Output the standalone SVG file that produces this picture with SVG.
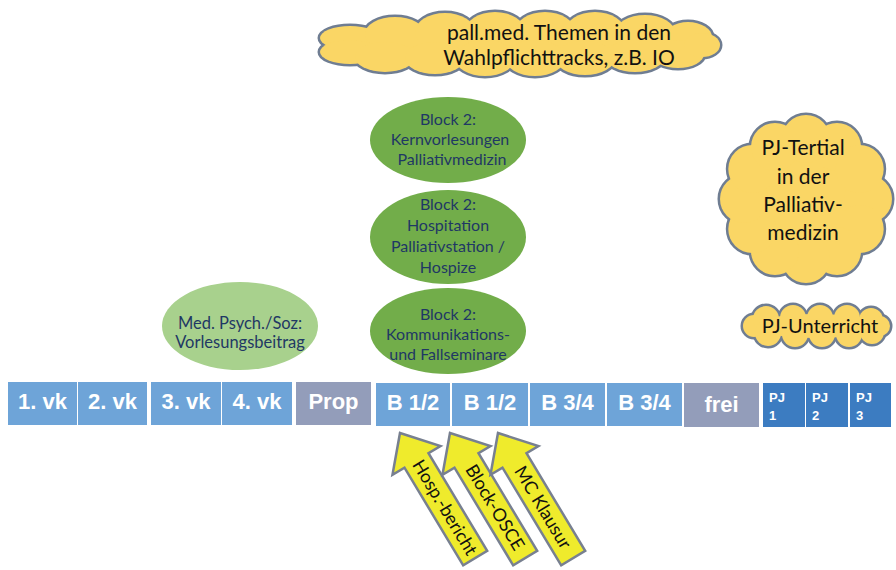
<svg xmlns="http://www.w3.org/2000/svg" xmlns:xlink="http://www.w3.org/1999/xlink" width="896" height="570" viewBox="0 0 896 570">
<style>
  .cl-edge{fill:#6f7d92;stroke:#6f7d92;stroke-width:5}
  .cl-fill{fill:#fad665;stroke:none}
  .cl-text{font-family:Lato,"Liberation Sans",sans-serif;font-size:21px;fill:#111;text-anchor:middle}
  .ell-dk{fill:#72ad4a}
  .ell-lt{fill:#a8d18d}
  .ell-text{font-family:Lato,"Liberation Sans",sans-serif;font-size:16px;fill:#1f3864;text-anchor:middle}
  .bx{fill:#6ea4d8}
  .bx-g{fill:#939dba}
  .bx-pj{fill:#3c7cc1}
  .bx-text{font-family:"Liberation Sans",Arial,sans-serif;font-weight:bold;font-size:22px;fill:#fff;text-anchor:middle}
  .pj-text{font-family:"Liberation Sans",Arial,sans-serif;font-weight:bold;font-size:13px;fill:#fff}
  .arr{fill:#efeb2c;stroke:#788090;stroke-width:2.5;stroke-linejoin:miter}
  .arr-text{font-family:Lato,"Liberation Sans",sans-serif;font-size:18px;fill:#111;text-anchor:middle}
</style>
<defs>
  <g id="cloudTop">
    <ellipse cx="520" cy="45" rx="172" ry="18"/>
    <ellipse cx="350" cy="38" rx="30" ry="12"/>
    <ellipse cx="350" cy="52" rx="30" ry="12"/>
    <ellipse cx="395" cy="34" rx="30" ry="17"/>
    <ellipse cx="445" cy="32" rx="30" ry="19"/>
    <ellipse cx="495" cy="32" rx="30" ry="20"/>
    <ellipse cx="545" cy="32" rx="30" ry="20"/>
    <ellipse cx="595" cy="32" rx="30" ry="20"/>
    <ellipse cx="645" cy="33" rx="30" ry="18"/>
    <ellipse cx="688" cy="37" rx="24" ry="15"/>
    <ellipse cx="385" cy="57" rx="30" ry="15"/>
    <ellipse cx="435" cy="58" rx="30" ry="16"/>
    <ellipse cx="485" cy="58" rx="30" ry="18"/>
    <ellipse cx="535" cy="58" rx="30" ry="18"/>
    <ellipse cx="585" cy="58" rx="30" ry="17"/>
    <ellipse cx="635" cy="56" rx="30" ry="16"/>
    <ellipse cx="678" cy="54" rx="26" ry="14"/>
    <ellipse cx="702" cy="45" rx="18" ry="12"/>
  </g>
  <g id="cloudTertial">
    <circle cx="806" cy="199" r="62"/>
    <circle cx="868" cy="199" r="24"/>
    <circle cx="859.7" cy="229" r="24"/>
    <circle cx="837" cy="251" r="24"/>
    <circle cx="806" cy="259" r="24"/>
    <circle cx="775" cy="251" r="24"/>
    <circle cx="752.3" cy="229" r="24"/>
    <circle cx="744" cy="199" r="24"/>
    <circle cx="752.3" cy="169" r="24"/>
    <circle cx="775" cy="147" r="24"/>
    <circle cx="806" cy="139" r="24"/>
    <circle cx="837" cy="147" r="24"/>
    <circle cx="859.7" cy="169" r="24"/>
  </g>
  <g id="cloudUnt">
    <ellipse cx="816" cy="326" rx="62" ry="12"/>
    <circle cx="754" cy="326" r="11"/>
    <circle cx="766" cy="319" r="13"/>
    <circle cx="793" cy="318" r="13"/>
    <circle cx="820" cy="318" r="13"/>
    <circle cx="847" cy="318" r="13"/>
    <circle cx="871" cy="320" r="12"/>
    <circle cx="768" cy="333" r="13"/>
    <circle cx="795" cy="334" r="13"/>
    <circle cx="822" cy="334" r="13"/>
    <circle cx="849" cy="334" r="13"/>
    <circle cx="872" cy="332" r="12"/>
    <circle cx="880" cy="326" r="10"/>
  </g>
  <path id="arrowShape" d="M0,0 L28,32 L14,32 L14,146 L-14,146 L-14,32 L-28,32 Z"/>
</defs>

<!-- Clouds -->
<g id="cloud-wahlpflicht">
  <use xlink:href="#cloudTop" href="#cloudTop" class="cl-edge"/>
  <use xlink:href="#cloudTop" href="#cloudTop" class="cl-fill"/>
  <text class="cl-text" x="559" y="40">pall.med. Themen in den</text>
  <text class="cl-text" x="559" y="65">Wahlpflichttracks, z.B. IO</text>
</g>
<g id="cloud-pj-tertial">
  <use xlink:href="#cloudTertial" href="#cloudTertial" class="cl-edge"/>
  <use xlink:href="#cloudTertial" href="#cloudTertial" class="cl-fill"/>
  <text class="cl-text" x="803" y="155">PJ-Tertial</text>
  <text class="cl-text" x="803" y="184">in der</text>
  <text class="cl-text" x="803" y="212">Palliativ-</text>
  <text class="cl-text" x="803" y="240">medizin</text>
</g>
<g id="cloud-pj-unterricht">
  <use xlink:href="#cloudUnt" href="#cloudUnt" class="cl-edge"/>
  <use xlink:href="#cloudUnt" href="#cloudUnt" class="cl-fill"/>
  <text class="cl-text" x="820" y="333" style="font-size:20px">PJ-Unterricht</text>
</g>

<!-- Ellipses -->
<g id="block2-kern">
  <ellipse class="ell-dk" cx="448" cy="140" rx="78" ry="43"/>
  <text class="ell-text" x="448" y="125">Block 2:</text>
  <text class="ell-text" x="450" y="145">Kernvorlesungen</text>
  <text class="ell-text" x="452" y="165">Palliativmedizin</text>
</g>
<g id="block2-hosp">
  <ellipse class="ell-dk" cx="448" cy="237" rx="78" ry="47"/>
  <text class="ell-text" x="448" y="210">Block 2:</text>
  <text class="ell-text" x="448" y="231">Hospitation</text>
  <text class="ell-text" x="448" y="252">Palliativstation /</text>
  <text class="ell-text" x="448" y="273">Hospize</text>
</g>
<g id="block2-komm">
  <ellipse class="ell-dk" cx="448" cy="331" rx="78" ry="43"/>
  <text class="ell-text" x="448" y="320">Block 2:</text>
  <text class="ell-text" x="448" y="340">Kommunikations-</text>
  <text class="ell-text" x="448" y="360">und Fallseminare</text>
</g>
<g id="med-psych">
  <ellipse class="ell-lt" cx="240" cy="326" rx="78" ry="44"/>
  <text class="ell-text" x="240" y="329" style="font-size:16.5px">Med. Psych./Soz:</text>
  <text class="ell-text" x="240" y="348" style="font-size:16.5px">Vorlesungsbeitrag</text>
</g>

<!-- Timeline boxes -->
<g id="box-1vk"><rect class="bx" x="8" y="382" width="69" height="43"/><text class="bx-text" x="42.5" y="409">1. vk</text></g>
<g id="box-2vk"><rect class="bx" x="78" y="382" width="69" height="43"/><text class="bx-text" x="112.5" y="409">2. vk</text></g>
<g id="box-3vk"><rect class="bx" x="151" y="382" width="70" height="43"/><text class="bx-text" x="186" y="409">3. vk</text></g>
<g id="box-4vk"><rect class="bx" x="222" y="382" width="70" height="43"/><text class="bx-text" x="257" y="409">4. vk</text></g>
<g id="box-prop"><rect class="bx-g" x="296" y="382" width="75" height="43"/><text class="bx-text" x="333.5" y="409">Prop</text></g>
<g id="box-b12a"><rect class="bx" x="376" y="383" width="74" height="43"/><text class="bx-text" x="413" y="410">B 1/2</text></g>
<g id="box-b12b"><rect class="bx" x="452" y="383" width="76" height="43"/><text class="bx-text" x="490" y="410">B 1/2</text></g>
<g id="box-b34a"><rect class="bx" x="530" y="383" width="75" height="43"/><text class="bx-text" x="567.5" y="410">B 3/4</text></g>
<g id="box-b34b"><rect class="bx" x="607" y="383" width="75" height="43"/><text class="bx-text" x="644.5" y="410">B 3/4</text></g>
<g id="box-frei"><rect class="bx-g" x="684" y="383" width="75" height="44"/><text class="bx-text" x="721.5" y="412">frei</text></g>
<g id="box-pj1"><rect class="bx-pj" x="763" y="383" width="42" height="44"/><text class="pj-text" x="769" y="402">PJ</text><text class="pj-text" x="769" y="420">1</text></g>
<g id="box-pj2"><rect class="bx-pj" x="806" y="383" width="42" height="44"/><text class="pj-text" x="812" y="402">PJ</text><text class="pj-text" x="812" y="420">2</text></g>
<g id="box-pj3"><rect class="bx-pj" x="850" y="383" width="41" height="44"/><text class="pj-text" x="856" y="402">PJ</text><text class="pj-text" x="856" y="420">3</text></g>

<!-- Arrows -->
<g id="connectors">
  <g id="arrow-hosp" transform="translate(400,433) rotate(-31)">
    <use xlink:href="#arrowShape" href="#arrowShape" class="arr"/>
    <text class="arr-text" transform="rotate(90)" x="87" y="6">Hosp.-bericht</text>
  </g>
  <g id="arrow-osce" transform="translate(450,433) rotate(-31)">
    <use xlink:href="#arrowShape" href="#arrowShape" class="arr"/>
    <text class="arr-text" transform="rotate(90)" x="87" y="6">Block-OSCE</text>
  </g>
  <g id="arrow-mc" transform="translate(498,433) rotate(-31)">
    <use xlink:href="#arrowShape" href="#arrowShape" class="arr"/>
    <text class="arr-text" transform="rotate(90)" x="87" y="6">MC Klausur</text>
  </g>
</g>
</svg>
